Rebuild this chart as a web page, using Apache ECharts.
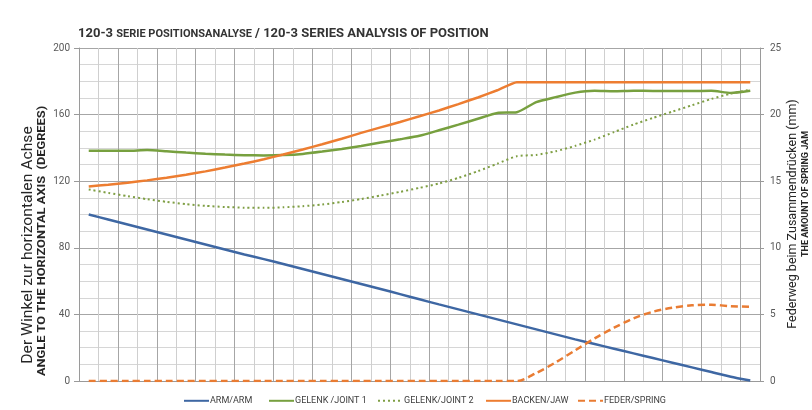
<!DOCTYPE html>
<html>
<head>
<meta charset="utf-8">
<script src="https://cdn.jsdelivr.net/npm/echarts@6/dist/echarts.min.js"></script>
<style>html,body{margin:0;padding:0;background:#fff;}#c{width:812px;height:410px;}</style>
</head>
<body>
<div id="c"></div>
<script>
const categories = ['1','2','3','4','5','6','7','8','9','10','11','12','13','14','15','16','17','18','19','20','21','22','23','24','25','26','27','28','29','30','31','32','33','34','35'];
const leftTicks = [0, 40, 80, 120, 160, 200];
const rightTicks = [0, 5, 10, 15, 20, 25];
const arm = [100,97,94,91,88,85,82,79,76,73.2,70.3,67.3,64.3,61.3,58.3,55.3,52.2,49.1,46,43,40,37,34,31,28,25,22.2,19.4,16.6,13.8,11,8.2,5.4,2.6,0.3];
const joint1 = [138.3,138.3,138.3,138.7,138,137.2,136.5,136,135.6,135.5,135.7,136.4,137.8,139.4,141.2,143.2,145.2,147.3,150.6,154,157.5,161,161.4,167.5,170.5,173.2,174.3,174,174.3,174.2,174.1,174.1,174.3,173,174.3];
const joint2 = [115,113,111,109.2,107.6,106.2,105.2,104.5,104.1,104,104.3,105,106,107.5,109.3,111.4,113.6,116,118.6,122,126,130.5,135,135.8,138,141.2,145,149.5,154,158,161.8,165.6,169.4,172.6,175];
const jaw = [116.8,117.9,119.1,120.5,122.1,123.9,125.9,128.2,130.6,133.2,136,139,142.2,145.5,149,152.3,155.6,159,162.5,166.3,170.3,174.6,179.4,179.4,179.4,179.4,179.4,179.4,179.4,179.4,179.4,179.4,179.4,179.4,179.4];
const spring = [0,0,0,0,0,0,0,0,0,0,0,0,0,0,0,0,0,0,0,0,0,0,0,0.6,1.4,2.3,3.2,4.0,4.7,5.2,5.5,5.68,5.72,5.62,5.58];

const FONT = 'Roboto';
const chart = echarts.init(document.getElementById('c'), null, {renderer: 'canvas'});

function legend(name, left) {
  return {
    data: [name], left: left, top: 396, itemWidth: 25, itemHeight: 12, itemGap: 0, padding: 0,
    itemStyle: {opacity: 0, borderWidth: 0},
    textStyle: {fontFamily: FONT, fontSize: 9, color: '#404040', padding: [0,0,0,-4]}
  };
}

const option = {
  animation: false,
  backgroundColor: '#fff',
  title: {
    left: 78, top: 27.5, padding: 0,
    text: '{a|120-3 }{b|SERIE POSITIONSANALYSE}{a| / 120-3 SERIES ANALYSIS OF POSITION}',
    textStyle: {
      rich: {
        a: {fontFamily: FONT, fontWeight: 'bold', fontSize: 13, color: '#333'},
        b: {fontFamily: FONT, fontWeight: 'bold', fontSize: 11, color: '#333'}
      }
    }
  },
  grid: {left: 79, right: 52, top: 48, bottom: 29, containLabel: false},
  legend: [
    legend('ARM/ARM', 183),
    legend('GELENK /JOINT 1', 268),
    legend('GELENK/JOINT 2', 377),
    legend('BACKEN/JAW', 485),
    legend('FEDER/SPRING', 577)
  ],
  xAxis: {
    type: 'category', data: categories, boundaryGap: true,
    axisLine: {show: true, lineStyle: {color: '#9a9a9a', width: 1}},
    axisTick: {show: false}, axisLabel: {show: false},
    splitLine: {show: true, lineStyle: {color: ['#a6a6a6', '#cfcfcf'], width: 1}}
  },
  yAxis: [
    {
      type: 'value', min: leftTicks[0], max: leftTicks[leftTicks.length-1], interval: 40, position: 'left',
      axisLine: {show: true, lineStyle: {color: '#9a9a9a'}},
      axisTick: {show: true, length: 5, lineStyle: {color: '#9a9a9a'}},
      axisLabel: {fontFamily: FONT, fontSize: 10, color: '#595959', margin: 9},
      splitLine: {show: true, lineStyle: {color: '#a6a6a6', width: 1}},
      minorTick: {show: false, splitNumber: 4},
      minorSplitLine: {show: true, lineStyle: {color: '#d6d6d6', width: 1}}
    },
    {
      type: 'value', min: rightTicks[0], max: rightTicks[rightTicks.length-1], interval: 5, position: 'right',
      axisLine: {show: true, lineStyle: {color: '#9a9a9a'}},
      axisTick: {show: true, length: 4, lineStyle: {color: '#9a9a9a'}},
      axisLabel: {fontFamily: FONT, fontSize: 10, color: '#595959', margin: 10},
      splitLine: {show: false}
    }
  ],
  graphic: [
    {type: 'text', x: 28, y: 245, rotation: Math.PI/2, scaleX: 1.12,
     style: {text: 'Der Winkel zur horizontalen Achse', fontFamily: FONT, fontSize: 14, fill: '#262626', align: 'center', verticalAlign: 'middle'}},
    {type: 'text', x: 42, y: 241, rotation: Math.PI/2, scaleX: 1.28,
     style: {text: 'ANGLE TO THE HORIZONTAL AXIS  (DEGREES)', fontFamily: FONT, fontWeight: 'bold', fontSize: 10, fill: '#262626', align: 'center', verticalAlign: 'middle'}},
    {type: 'text', x: 793, y: 214, rotation: Math.PI/2,
     style: {text: 'Federweg beim Zusammendrücken (mm)', fontFamily: FONT, fontSize: 12.5, fill: '#262626', align: 'center', verticalAlign: 'middle'}},
    {type: 'text', x: 806, y: 194, rotation: Math.PI/2,
     style: {text: 'THE AMOUNT OF SPRING JAM', fontFamily: FONT, fontWeight: 'bold', fontSize: 9, fill: '#262626', align: 'center', verticalAlign: 'middle'}}
  ],
  series: [
    {name: 'ARM/ARM', type: 'line', yAxisIndex: 0, data: arm, symbol: 'none', smooth: 0.2,
     lineStyle: {color: '#3e67a3', width: 2.5}, itemStyle: {color: '#3e67a3'}},
    {name: 'GELENK /JOINT 1', type: 'line', yAxisIndex: 0, data: joint1, symbol: 'none', smooth: 0.2,
     lineStyle: {color: '#77a03f', width: 2.5}, itemStyle: {color: '#77a03f'}},
    {name: 'GELENK/JOINT 2', type: 'line', yAxisIndex: 0, data: joint2, symbol: 'none', smooth: 0.2,
     lineStyle: {color: '#7f9f44', width: 2, type: [2, 3]}, itemStyle: {color: '#7f9f44'}},
    {name: 'BACKEN/JAW', type: 'line', yAxisIndex: 0, data: jaw, symbol: 'none', smooth: 0.15,
     lineStyle: {color: '#ed7d31', width: 2.5}, itemStyle: {color: '#ed7d31'}},
    {name: 'FEDER/SPRING', type: 'line', yAxisIndex: 1, data: spring, symbol: 'none', smooth: 0.3,
     lineStyle: {color: '#e97c33', width: 2.5, type: [7, 4]}, itemStyle: {color: '#e97c33'}}
  ]
};
chart.setOption(option);
</script>
</body>
</html>
